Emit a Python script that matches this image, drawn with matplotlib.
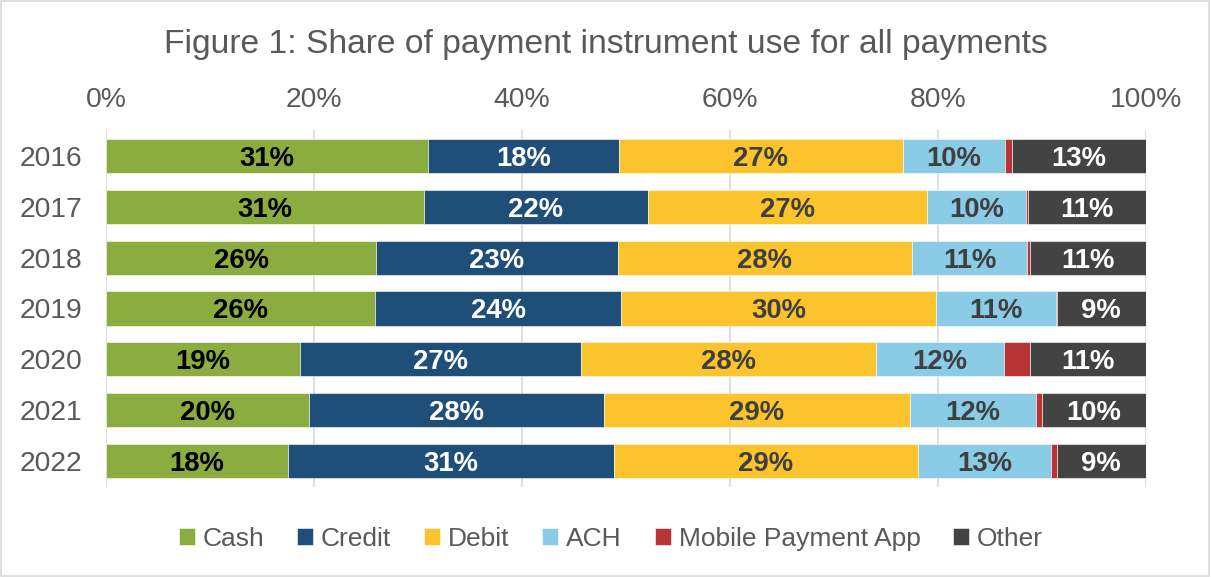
import matplotlib
matplotlib.use("Agg")
import matplotlib.pyplot as plt
from matplotlib.patches import Rectangle
import numpy as np

plt.rcParams['font.family'] = ['Liberation Sans', 'DejaVu Sans']

years = ["2016", "2017", "2018", "2019", "2020", "2021", "2022"]
categories = ["Cash", "Credit", "Debit", "ACH", "Mobile Payment App", "Other"]
cash   = [31.0, 30.6, 26.0, 25.9, 18.65, 19.5, 17.5]
credit = [18.3, 21.5, 23.2, 23.6, 27.05, 28.4, 31.3]
debit  = [27.35, 26.8, 28.3, 30.35, 28.3, 29.4, 29.3]
ach    = [9.75, 9.6, 11.1, 11.45, 12.3, 12.1, 12.8]
mobile = [0.7, 0.2, 0.2, 0.1, 2.55, 0.6, 0.5]
other  = [12.9, 11.3, 11.2, 8.6, 11.15, 10.0, 8.6]
series = [cash, credit, debit, ach, mobile, other]

colors = ["#8BAD3F", "#1F4E79", "#FBC42D", "#8ACBE6", "#B73535", "#434343"]
label_colors = ["black", "white", "#3F3F3F", "#3F3F3F", None, "white"]

fig = plt.figure(figsize=(12.11, 5.77), dpi=100)
ax = fig.add_axes([106/1211, 1-487/577, 1040/1211, 357/577])

y = np.arange(len(years))
left = np.zeros(len(years))
for vals, name, col, lc in zip(series, categories, colors, label_colors):
    vals = np.array(vals)
    ax.barh(y, vals, left=left, height=0.67, color=col, label=name,
            edgecolor="white", linewidth=0.4, zorder=3)
    if lc is not None:
        for yi, l, v in zip(y, left, vals):
            ax.text(l + v/2, yi, f"{int(round(v))}%", ha="center", va="center_baseline",
                    color=lc, fontsize=19.8, fontweight="bold", zorder=4)
    left = left + vals

ax.set_xlim(0, 100)
ax.set_ylim(len(years) - 0.49, -0.51)
ax.set_yticks(y)
ax.set_yticklabels(years)
ax.set_xticks(np.arange(0, 101, 20))
ax.set_xticklabels([f"{t}%" for t in range(0, 101, 20)])
ax.xaxis.tick_top()
ax.tick_params(axis="x", length=0, pad=12, labelsize=20.3, labelcolor="#595959")
ax.tick_params(axis="y", length=0, pad=17, labelsize=20.3, labelcolor="#595959")
ax.grid(axis="x", color="#D9D9D9", linewidth=1.2, zorder=0)
for s in ax.spines.values():
    s.set_visible(False)

fig.text(0.5, 1-45/577, "Figure 1: Share of payment instrument use for all payments",
         ha="center", va="center", fontsize=24.2, color="#595959")

handles, labels = ax.get_legend_handles_labels()
fig.legend(handles, labels, loc="center", bbox_to_anchor=(611/1211, 1-539/577),
           ncol=6, frameon=False, fontsize=19, labelcolor="#595959",
           handlelength=0.6, handleheight=0.6, handletextpad=0.3,
           columnspacing=1.25)

fig.patches.append(Rectangle((0.001, 0.001), 0.997, 0.997, transform=fig.transFigure,
                             fill=False, edgecolor="#D9D9D9", linewidth=1.2))

fig.savefig("out.png", dpi=100, facecolor="white")
